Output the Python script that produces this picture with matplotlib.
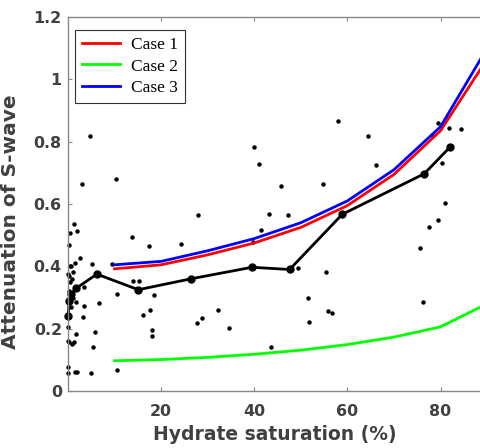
import numpy as np
import matplotlib
matplotlib.use("Agg")
from matplotlib import pyplot as plt

# model curves (hydrate saturation %, attenuation)
sh_model = [10, 20, 30, 40, 50, 60, 70, 80, 90]
case1 = [0.392, 0.405, 0.437, 0.475, 0.525, 0.595, 0.695, 0.835, 1.065]
case2 = [0.097, 0.101, 0.108, 0.118, 0.131, 0.149, 0.173, 0.206, 0.280]
case3 = [0.405, 0.416, 0.450, 0.489, 0.540, 0.610, 0.710, 0.848, 1.100]

# binned mean of measurements
sh_mean = [0.0, 0.3, 0.6, 1.8, 6.2, 15.1, 26.4, 39.5, 47.6, 58.9, 76.5, 82.0]
att_mean = [0.24, 0.29, 0.31, 0.33, 0.375, 0.325, 0.36, 0.397, 0.39, 0.567, 0.697, 0.782]

# measured points
sh_pts = [4.8, 2.9, 10.2, 1.3, 0.4, 1.9, 0.3, 13.7, 1.5, 2.6, 5.1, 9.4, 0.4, 1.1,
          13.9, 15.3, 10.5, 3.4, 0.6, 0.1, 17.4, 24.2, 6.7, 3.5, 3.2, 18.5, 16.2,
          17.6, 18.1, 18.1, 5.8, 5.4, 1.7, 0.1, 0.3, 0.8, 1.3, 0.1, 0.1, 1.5, 2.0,
          4.9, 10.5, 27.7, 28.7, 32.3, 34.6, 28.0, 58.0, 40.0, 41.1, 45.8, 54.8,
          43.2, 47.3, 41.4, 39.7, 49.4, 55.4, 51.6, 55.8, 56.8, 51.8, 43.7, 79.5,
          64.4, 78.1, 81.8, 84.5, 66.2, 80.4, 80.9, 79.4, 77.5, 75.7, 76.3, 1.7,
          0.2, 0.5, 0.3, 1.0, 0.6, 0.2, 0.9, 0.0]
att_pts = [0.818, 0.664, 0.679, 0.536, 0.508, 0.513, 0.468, 0.495, 0.41, 0.426,
           0.406, 0.406, 0.40, 0.383, 0.354, 0.354, 0.311, 0.333, 0.402, 0.375,
           0.466, 0.472, 0.281, 0.274, 0.236, 0.309, 0.245, 0.26, 0.196, 0.176,
           0.188, 0.14, 0.183, 0.205, 0.156, 0.151, 0.156, 0.076, 0.058, 0.06,
           0.06, 0.057, 0.067, 0.217, 0.233, 0.26, 0.202, 0.566, 0.866, 0.784,
           0.728, 0.657, 0.663, 0.567, 0.564, 0.517, 0.479, 0.396, 0.381, 0.298,
           0.258, 0.249, 0.222, 0.14, 0.859, 0.819, 0.823, 0.843, 0.84, 0.724,
           0.733, 0.602, 0.548, 0.525, 0.458, 0.285, 0.287, 0.37, 0.35, 0.32,
           0.30, 0.27, 0.29, 0.36, 0.16]

fig = plt.figure(figsize=(4.81, 4.48), dpi=100)
ax = fig.add_axes([0.1414, 0.1272, 0.8596, 0.8348])

ax.plot(sh_pts, att_pts, 'o', color='k', ms=3.2, mec='none', clip_on=False)
ax.plot(sh_mean, att_mean, '-o', color='k', lw=2, ms=5, clip_on=False)
l1, = ax.plot(sh_model, case1, color='#ff0000', lw=2)
l2, = ax.plot(sh_model, case2, color='#00ff00', lw=2)
l3, = ax.plot(sh_model, case3, color='#0000ff', lw=2)

ax.set_xlim(0, 88.8)
ax.set_ylim(0, 1.2)
ax.set_xticks([20, 40, 60, 80])
ax.set_yticks([0, 0.2, 0.4, 0.6, 0.8, 1.0, 1.2])
ax.set_yticklabels(['0', '0.2', '0.4', '0.6', '0.8', '1', '1.2'])

txt = '#404040'
for s in ax.spines.values():
    s.set_color('#888888')
    s.set_linewidth(1)
ax.tick_params(direction='in', length=3, width=0.8, color='#888888',
               top=True, labelcolor=txt)
ax.tick_params(axis='x', pad=9)
ax.tick_params(axis='y', pad=4.5)
for lab in ax.get_xticklabels() + ax.get_yticklabels():
    lab.set_fontfamily('DejaVu Sans')
    lab.set_fontweight('bold')
    lab.set_fontsize(11.4)

ax.set_xlabel('Hydrate saturation (%)', fontsize=13.5, fontweight='bold',
              family='DejaVu Sans', color=txt, labelpad=5)
ax.set_ylabel('Attenuation of S-wave', fontsize=14.5, fontweight='bold',
              family='DejaVu Sans', color=txt)
ax.yaxis.set_label_coords(-0.115, 0.452)

leg = ax.legend([l1, l2, l3], ['Case 1', 'Case 2', 'Case 3'], loc='upper left',
                bbox_to_anchor=(0.017, 0.965), borderaxespad=0,
                prop={'family': 'Liberation Serif', 'size': 12.5},
                fancybox=False, framealpha=1, edgecolor='#333333', handlelength=2.2,
                handletextpad=0.6, borderpad=0.4, labelspacing=0.3)
leg.get_frame().set_linewidth(0.8)

fig.savefig('out.png', dpi=100)
